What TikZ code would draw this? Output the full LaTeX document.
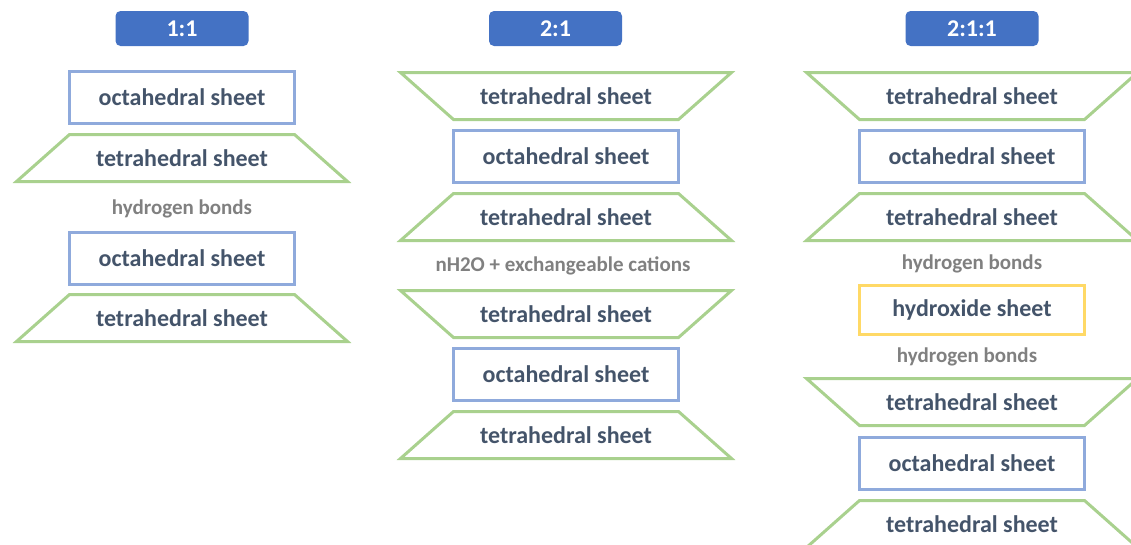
\documentclass[tikz,border=0pt]{standalone}
\usepackage{fontspec}
\setmainfont{Carlito}
\definecolor{titleblue}{HTML}{4472C4}
\definecolor{octblue}{HTML}{8FAADC}
\definecolor{tetgreen}{HTML}{A9D18E}
\definecolor{hydyellow}{HTML}{FFD966}
\definecolor{sheettext}{HTML}{44546A}
\definecolor{bondgray}{HTML}{808080}
\begin{document}
\begin{tikzpicture}[x=1pt,y=-1pt,
    ratio/.style={fill=titleblue,rounded corners=5pt,minimum width=133pt,minimum height=35pt,
      text=white,font=\bfseries\fontsize{24}{28}\selectfont},
    sheet/.style={line width=3pt,text=sheettext,font=\bfseries\fontsize{24}{28}\selectfont},
    octa/.style={sheet,draw=octblue,minimum width=225pt,minimum height=52pt},
    hydrox/.style={sheet,draw=hydyellow,minimum width=225pt,minimum height=49pt},
    tetra/.style={sheet,outer sep=0pt,minimum width=225pt,minimum height=47pt},
    tetline/.style={draw=tetgreen,line width=3pt},
    bond/.style={text=bondgray,font=\bfseries\fontsize{21}{25}\selectfont}]
  \useasboundingbox (0,0) rectangle (1131,544);
  % 1:1
  \node[ratio] (r11) at (182,28.5) {1:1};
  \node[octa] (o1a) at (182,97.5) {octahedral sheet};
  \node[tetra] (t1a) at (182,158) {tetrahedral sheet};
  \node[bond] (b1) at (182,209) {hydrogen bonds};
  \node[octa] (o1b) at (182,258) {octahedral sheet};
  \node[tetra] (t1b) at (182,318) {tetrahedral sheet};
  % 2:1
  \node[ratio] (r21) at (555.5,28.5) {2:1};
  \node[tetra] (t2a) at (566,96) {tetrahedral sheet};
  \node[octa] (o2a) at (566,156.5) {octahedral sheet};
  \node[tetra] (t2b) at (566,217) {tetrahedral sheet};
  \node[bond] (b2) at (563,266) {nH2O + exchangeable cations};
  \node[tetra] (t2c) at (566,314) {tetrahedral sheet};
  \node[octa] (o2b) at (566,374.5) {octahedral sheet};
  \node[tetra] (t2d) at (566,435) {tetrahedral sheet};
  % 2:1:1
  \node[ratio] (r211) at (972,28.5) {2:1:1};
  \node[tetra] (t3a) at (972,96) {tetrahedral sheet};
  \node[octa] (o3a) at (972,156.5) {octahedral sheet};
  \node[tetra] (t3b) at (972,217) {tetrahedral sheet};
  \node[bond] (b3a) at (972,264) {hydrogen bonds};
  \node[hydrox] (h3) at (972,310) {hydroxide sheet};
  \node[bond] (b3b) at (967,357) {hydrogen bonds};
  \node[tetra] (t3c) at (972,402) {tetrahedral sheet};
  \node[octa] (o3b) at (972,463) {octahedral sheet};
  \node[tetra] (t3d) at (972,524) {tetrahedral sheet};
  % tetrahedral outlines, wide side down
  \foreach \t in {t1a,t1b,t2b,t2d,t3b,t3d}
    \draw[tetline] (\t.north west) -- (\t.north east)
      -- ([xshift=53pt]\t.south east) -- ([xshift=-53pt]\t.south west) -- cycle;
  % wide side up
  \foreach \t in {t2a,t2c,t3a,t3c}
    \draw[tetline] ([xshift=-53pt]\t.north west) -- ([xshift=53pt]\t.north east)
      -- (\t.south east) -- (\t.south west) -- cycle;
\end{tikzpicture}
\end{document}
